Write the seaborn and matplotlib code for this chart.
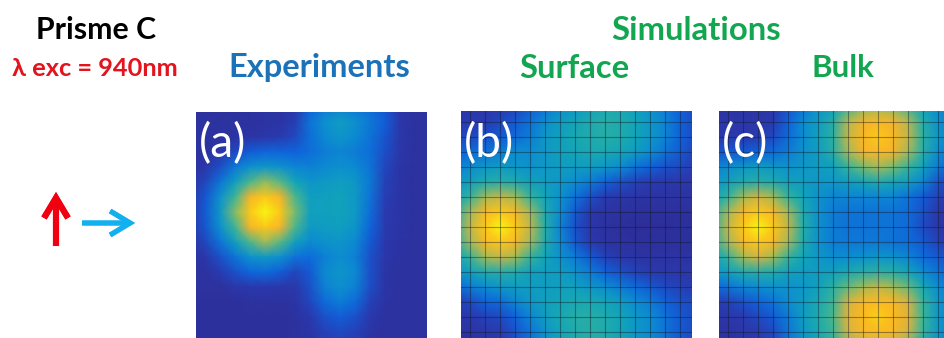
import numpy as np
import matplotlib.pyplot as plt
import seaborn as sns
from matplotlib.colors import LinearSegmentedColormap

# intensity, one node every 15 px (rows top to bottom)
experiments = [
    [.04, .04, .04, .04, .05, .06, .06, .08, .20, .25, .27, .25, .22, .17, .07, .05, .05],
    [.05, .05, .05, .05, .05, .06, .06, .11, .24, .31, .36, .31, .25, .19, .08, .05, .05],
    [.05, .05, .05, .06, .07, .08, .10, .14, .23, .29, .33, .29, .24, .17, .08, .05, .05],
    [.05, .05, .08, .14, .19, .21, .21, .20, .23, .26, .28, .26, .23, .15, .08, .05, .05],
    [.05, .08, .15, .25, .31, .34, .32, .28, .27, .29, .31, .29, .24, .13, .07, .05, .05],
    [.06, .13, .24, .37, .54, .64, .56, .40, .33, .35, .37, .34, .25, .12, .07, .05, .05],
    [.07, .17, .31, .52, .82, .92, .82, .54, .37, .38, .39, .35, .24, .11, .07, .05, .05],
    [.07, .18, .34, .62, .92, 1.0, .92, .60, .38, .38, .39, .35, .23, .10, .07, .05, .05],
    [.07, .17, .31, .52, .82, .92, .82, .54, .35, .36, .37, .33, .21, .10, .07, .05, .05],
    [.06, .13, .24, .37, .54, .66, .56, .38, .29, .32, .33, .29, .18, .09, .06, .05, .05],
    [.05, .08, .16, .24, .32, .35, .31, .24, .22, .27, .30, .27, .16, .08, .06, .05, .05],
    [.05, .05, .10, .16, .21, .22, .19, .13, .18, .29, .33, .29, .16, .07, .05, .05, .05],
    [.05, .05, .05, .08, .09, .09, .08, .08, .16, .27, .31, .27, .15, .07, .05, .05, .05],
    [.04, .04, .04, .04, .05, .05, .05, .07, .13, .22, .26, .22, .12, .06, .05, .05, .05],
    [.04, .04, .04, .04, .04, .04, .04, .05, .09, .16, .19, .16, .09, .05, .05, .05, .05],
    [.04, .04, .04, .04, .04, .04, .04, .05, .07, .12, .14, .12, .07, .05, .05, .05, .05],
    [.04, .04, .04, .04, .04, .04, .04, .05, .06, .10, .12, .10, .06, .05, .05, .05, .05],
]
surface = [
    [.08, .08, .08, .10, .12, .18, .24, .30, .34, .38, .42, .42, .38, .32, .26, .20, .14],
    [.10, .10, .10, .14, .18, .24, .30, .36, .40, .44, .46, .44, .40, .34, .28, .20, .14],
    [.14, .14, .16, .18, .22, .26, .34, .38, .42, .44, .46, .44, .40, .34, .28, .20, .14],
    [.20, .22, .24, .26, .30, .30, .34, .38, .40, .42, .42, .40, .36, .30, .24, .18, .12],
    [.26, .30, .34, .36, .34, .32, .34, .36, .36, .36, .34, .30, .24, .20, .16, .14, .10],
    [.32, .38, .44, .46, .44, .38, .36, .34, .30, .26, .20, .16, .12, .10, .09, .08, .08],
    [.38, .50, .66, .70, .66, .50, .40, .32, .24, .16, .10, .08, .07, .06, .06, .06, .06],
    [.44, .66, .84, .92, .84, .66, .44, .30, .18, .09, .06, .05, .04, .04, .04, .04, .04],
    [.46, .70, .92, 1.0, .92, .70, .46, .28, .16, .08, .05, .04, .03, .03, .03, .04, .04],
    [.44, .66, .84, .92, .84, .66, .44, .30, .18, .10, .06, .05, .04, .04, .04, .04, .04],
    [.38, .50, .66, .70, .66, .50, .40, .32, .26, .18, .12, .08, .07, .06, .06, .06, .06],
    [.32, .38, .44, .46, .44, .38, .36, .36, .32, .26, .20, .16, .12, .10, .08, .08, .08],
    [.20, .26, .30, .34, .36, .36, .36, .38, .38, .34, .30, .26, .22, .18, .14, .12, .10],
    [.10, .14, .20, .22, .28, .34, .38, .40, .42, .42, .40, .36, .30, .26, .20, .16, .14],
    [.07, .09, .12, .14, .20, .28, .36, .42, .46, .46, .44, .40, .34, .30, .24, .18, .14],
    [.05, .06, .08, .10, .16, .24, .32, .40, .44, .46, .44, .40, .34, .30, .24, .18, .14],
    [.05, .06, .08, .10, .16, .24, .32, .40, .44, .46, .44, .40, .34, .30, .24, .18, .14],
]
bulk = [
    [.06, .06, .06, .06, .08, .16, .24, .32, .38, .52, .62, .66, .62, .52, .38, .30, .24],
    [.08, .08, .08, .08, .10, .20, .30, .36, .46, .68, .80, .85, .80, .68, .46, .32, .26],
    [.10, .09, .09, .10, .14, .22, .30, .38, .48, .70, .85, .92, .85, .70, .48, .34, .26],
    [.16, .18, .18, .20, .22, .26, .32, .36, .46, .66, .80, .85, .80, .66, .46, .30, .24],
    [.26, .30, .34, .36, .34, .32, .34, .36, .38, .50, .60, .66, .60, .50, .38, .26, .18],
    [.32, .38, .44, .46, .44, .38, .36, .34, .34, .36, .40, .44, .40, .36, .28, .16, .12],
    [.38, .50, .66, .72, .66, .50, .40, .32, .28, .28, .28, .28, .28, .24, .18, .12, .08],
    [.44, .66, .84, .92, .84, .66, .44, .32, .26, .24, .24, .24, .24, .22, .16, .08, .05],
    [.46, .70, .92, 1.0, .92, .70, .46, .32, .26, .24, .24, .24, .24, .22, .14, .08, .05],
    [.44, .66, .84, .92, .84, .66, .44, .32, .26, .25, .25, .25, .24, .22, .18, .12, .08],
    [.38, .50, .66, .72, .66, .50, .40, .34, .30, .30, .32, .33, .32, .28, .22, .18, .14],
    [.32, .38, .44, .46, .44, .38, .36, .36, .38, .42, .46, .48, .46, .40, .30, .24, .20],
    [.20, .24, .28, .30, .32, .32, .34, .38, .48, .58, .66, .70, .66, .58, .42, .30, .24],
    [.10, .12, .16, .20, .24, .30, .36, .42, .52, .72, .84, .88, .84, .72, .50, .34, .26],
    [.06, .08, .10, .14, .18, .26, .36, .44, .54, .74, .88, .93, .88, .74, .52, .34, .26],
    [.05, .06, .08, .10, .14, .24, .34, .42, .52, .72, .84, .88, .84, .72, .50, .34, .26],
    [.05, .06, .08, .10, .14, .24, .32, .38, .48, .58, .66, .70, .66, .58, .42, .32, .26],
]
panel_labels = ['(a)', '(b)', '(c)']

W, H = 944, 338
sns.set_theme(style='white')
plt.rcParams['font.family'] = ['Lato', 'DejaVu Sans']

parula = LinearSegmentedColormap.from_list('parula_like', [
    (0.00, '#2e2a90'), (0.10, '#2a3ab0'), (0.20, '#0f62dc'), (0.30, '#0c8ed0'),
    (0.40, '#12a5b8'), (0.52, '#3cb596'), (0.64, '#94bc60'), (0.76, '#f0b034'),
    (0.90, '#fdbc1c'), (1.00, '#f8f510')])

fig = plt.figure(figsize=(W / 100, H / 100), dpi=100)


def add_panel(values, left, right, top, node_x, label, label_x, grid):
    ax = fig.add_axes([left / W, 0, (right - left) / W, (H - top) / H])
    sns.heatmap(np.array(values), ax=ax, cmap=parula, vmin=0, vmax=1, cbar=False,
                xticklabels=False, yticklabels=False, shading='gouraud')
    ax.set_xlim((left - node_x) / 15, (right - node_x) / 15)
    ax.set_ylim((H - 107) / 15, (top - 107) / 15)
    if grid:
        ax.vlines(np.arange(1, 17), 0, 16, color='#101828', alpha=.42, lw=.8)
        ax.hlines(np.arange(1, 17), 0, 16, color='#101828', alpha=.42, lw=.8)
    ax.axis('off')
    fig.text(label_x / W, 1 - 144 / H, label, color='white', fontsize=33, ha='left', va='center')


add_panel(experiments, 196, 427, 112, 190, panel_labels[0], 199, False)
add_panel(surface, 461, 692, 111, 455, panel_labels[1], 464, True)
add_panel(bulk, 719, 944, 111, 713, panel_labels[2], 722, True)

titles = [('Prisme C', 96, 30, 'black'), ('λ exc = 940nm', 95, 68, '#e2141e'),
          ('Experiments', 319, 68, '#1b72b8'), ('Simulations', 696, 30, '#12a650'),
          ('Surface', 574, 68, '#12a650'), ('Bulk', 843, 68, '#12a650')]
sizes = [21.8, 18.3, 23.5, 23.7, 23.6, 22.5]
for (txt, x, y, col), fs in zip(titles, sizes):
    fig.text(x / W, 1 - y / H, txt, color=col, fontsize=fs, fontweight='bold', ha='center', va='center')

# polarisation arrows
for start, end, col, lw in [((56, 246), (56, 192), '#f00010', 4.4), ((82, 223), (135, 223), '#12b0ee', 3.6)]:
    fig.add_artist(plt.annotate('', xy=(end[0] / W, 1 - end[1] / H), xytext=(start[0] / W, 1 - start[1] / H),
                                xycoords='figure fraction', textcoords='figure fraction',
                                arrowprops=dict(arrowstyle='->,head_length=0.6,head_width=0.36',
                                                color=col, lw=lw, mutation_scale=24,
                                                shrinkA=0, shrinkB=0, joinstyle='miter', capstyle='butt')))

fig.savefig('out.png', dpi=100)
